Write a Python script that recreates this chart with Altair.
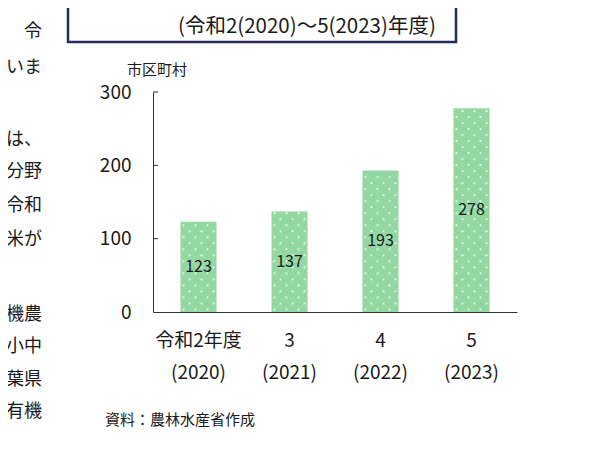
import altair as alt
import pandas as pd

categories = ["令和2年度|(2020)", "3|(2021)", "4|(2022)", "5|(2023)"]
values = [123, 137, 193, 278]
y_ticks = [0, 100, 200, 300]
y_title = "市区町村"
title_line1 = "ている市区町村数"
title_line2 = "(令和2(2020)～5(2023)年度)"
source = "資料：農林水産省作成"
side_text = ["令", "いま", "は、", "分野", "令和", "米が", "機農", "小中", "葉県", "有機"]

FONT = "Noto Sans CJK JP"
BAR = "#93D7A2"

# layout (page-pixel centres of the body-text fragments on the left)
side_rows_page_y = [32, 68, 140, 172, 206, 240, 315, 347, 380, 412]
ORIGIN_X, ORIGIN_Y = 153, 92

df = pd.DataFrame({"cat": categories, "val": values})
df["half"] = df["val"] / 2

# decorative dot pattern inside the bars (derived from the bar values)
dot_rows = []
for c, v in zip(categories, values):
    k = 0
    while 3.5 + 8.2 * k < v - 2:
        cols = [0, 2, 4] if k % 2 == 0 else [1, 3, 5]
        for col in cols:
            dot_rows.append({"cat": c, "y": 3.5 + 8.2 * k, "col": col})
        k += 1
dots = pd.DataFrame(dot_rows)

xenc = alt.X(
    "cat:N",
    sort=categories,
    scale=alt.Scale(paddingInner=0.604, paddingOuter=0.302),
    axis=alt.Axis(
        title=None,
        ticks=False,
        labelExpr="split(datum.label, '|')",
        labelFont=FONT,
        labelFontSize=19,
        labelColor="#1a1a1a",
        labelLineHeight=32,
        labelPadding=19,
        labelAngle=0,
        domainColor="#333333",
        labelBaseline="top",
    ),
)
yscale = alt.Scale(domain=[0, 300], nice=False)

bars = alt.Chart(df).mark_bar(color=BAR).encode(
    x=xenc,
    y=alt.Y(
        "val:Q",
        scale=yscale,
        axis=alt.Axis(
            title=None,
            values=y_ticks,
            ticks=False,
            grid=False,
            labelFont=FONT,
            labelFontSize=19,
            labelColor="#1a1a1a",
            labelPadding=22,
            domainColor="#333333",
        ),
    ),
)

dot_layers = []
for col in range(6):
    dot_layers.append(
        alt.Chart(dots)
        .transform_filter(alt.datum.col == col)
        .mark_square(color="#E4F6E2", size=4, opacity=0.9)
        .encode(
            x=alt.X("cat:N", sort=categories, bandPosition=(3 + 6 * col) / 36),
            y=alt.Y("y:Q", scale=yscale),
        )
    )

labels = alt.Chart(df).mark_text(font=FONT, fontSize=16, color="#1a1a1a", baseline="middle").encode(
    x=alt.X("cat:N", sort=categories),
    y=alt.Y("half:Q", scale=yscale),
    text="val:Q",
)

tick_df = pd.DataFrame({"t": y_ticks[1:]})
ticks = alt.Chart(tick_df).mark_rule(color="#333333", strokeWidth=1).encode(
    y=alt.Y("t:Q", scale=yscale), x=alt.value(0), x2=alt.value(5)
)

def txt(s, x, y, size, align="left", baseline="middle", color="#1a1a1a"):
    return alt.Chart(pd.DataFrame({"s": [s]})).mark_text(
        font=FONT, fontSize=size, align=align, baseline=baseline, color=color
    ).encode(text="s:N", x=alt.value(x), y=alt.value(y))

box = alt.Chart(pd.DataFrame({"a": [0]})).mark_rect(
    fill="white", stroke="#262B5E", strokeWidth=2.5
).encode(x=alt.value(-85), x2=alt.value(303), y=alt.value(-110), y2=alt.value(-50))

title1 = txt(title_line1, 27, -98, 20)
title2 = txt(title_line2, 25, -65, 20.5)
ytitle = txt(y_title, 4, -22, 15, align="center")
src = txt(source, -48, 328, 15)
side_layers = [
    txt(s, 42 - ORIGIN_X, py - ORIGIN_Y, 18, align="right")
    for s, py in zip(side_text, side_rows_page_y)
]

chart = alt.layer(
    box, title1, title2, ytitle, src, *side_layers, bars, *dot_layers, labels, ticks
).properties(
    width=364,
    height=220,
    padding={"left": 145, "top": 84, "right": 80, "bottom": 125},
    autosize=alt.AutoSizeParams(type="none"),
    background="white",
).configure_view(strokeWidth=0, stroke=None)

chart.save("out.html", embed_options={"renderer": "svg", "actions": False})
